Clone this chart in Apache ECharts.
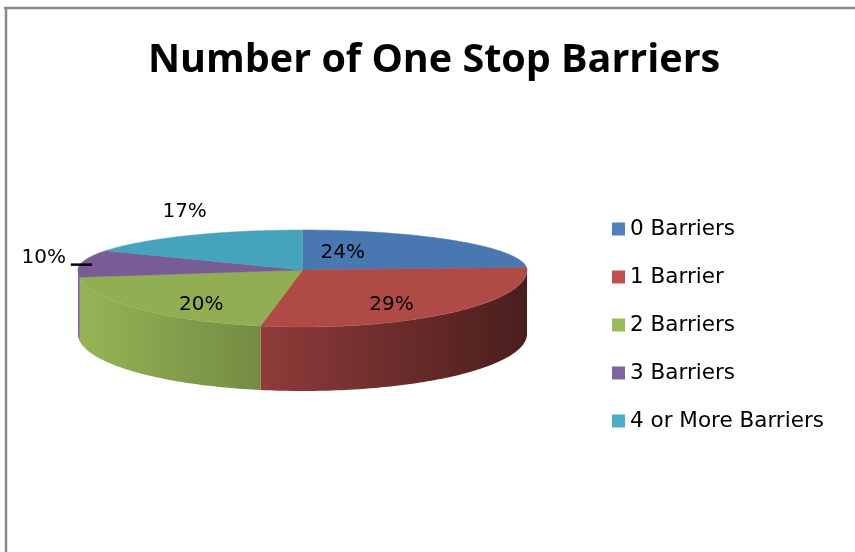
<!DOCTYPE html>
<html>
<head>
<meta charset="utf-8">
<script src="https://cdn.jsdelivr.net/npm/echarts@6/dist/echarts.min.js"></script>
<style>
html,body{margin:0;padding:0;background:#fff;}
#main{width:855px;height:552px;}
</style>
</head>
<body>
<div id="main"></div>
<script>
// ---- data ----
const titleText = 'Number of One Stop Barriers';
const categories = ['0 Barriers', '1 Barrier', '2 Barriers', '3 Barriers', '4 or More Barriers'];
const values = [24, 29, 20, 10, 17];
const labelTexts = ['24%', '29%', '20%', '10%', '17%'];

// ---- style ----
const legendColors = ['#4F81BD', '#C0504D', '#9BBB59', '#8064A2', '#4BACC6'];
const topColors = ['#4877B1', '#B04A47', '#91AE52', '#775C96', '#46A3BC'];
const geo = { cx: 302.5, cy: 270, rx: 224.5, ryTop: 40, ryBot: 57, depth: 64 };
const TITLE_FONT = '"Open Sans"';
const TEXT_FONT = '"DejaVu Sans"';
const labelStyle = {
  place: ['in', 'in', 'in', 'out', 'out'],
  nudge: [[-52, 5], [0, 3], [-3, 6], [17, -3], [25, -15]]
};

function shade(hex, f) {
  const n = parseInt(hex.slice(1), 16);
  const r = Math.round(((n >> 16) & 255) * f), g = Math.round(((n >> 8) & 255) * f), b = Math.round((n & 255) * f);
  return 'rgb(' + r + ',' + g + ',' + b + ')';
}
function pt(t, dy) {
  const c = Math.cos(t);
  const ry = c > 0 ? geo.ryTop : geo.ryBot;
  return [geo.cx + geo.rx * Math.sin(t), geo.cy - ry * c + (dy || 0)];
}
function arcPts(a, b, dy) {
  const n = Math.max(2, Math.ceil((b - a) / 0.02));
  const out = [];
  for (let k = 0; k <= n; k++) out.push(pt(a + (b - a) * k / n, dy));
  return out;
}

const total = values.reduce((s, v) => s + v, 0);

function renderSlice(params, api) {
  const i = params.seriesIndex;
  const before = values.slice(0, i).reduce((s, v) => s + v, 0);
  const v = api.value(0);
  const a0 = before / total * Math.PI * 2;
  const a1 = (before + v) / total * Math.PI * 2;
  const children = [];
  const wa = Math.max(a0, Math.PI / 2), wb = Math.min(a1, Math.PI * 1.5);
  if (wb > wa) {
    const topArc = arcPts(wa, wb, 0);
    const botArc = arcPts(wa, wb, geo.depth).reverse();
    const base = legendColors[i];
    children.push({
      type: 'polygon',
      shape: { points: topArc.concat(botArc) },
      style: {
        fill: {
          type: 'linear', x: geo.cx - geo.rx, y: 0, x2: geo.cx + geo.rx, y2: 0, global: true,
          colorStops: [
            { offset: 0, color: shade(base, 0.97) },
            { offset: 0.4, color: shade(base, 0.75) },
            { offset: 1, color: shade(base, 0.38) }
          ]
        },
        stroke: null
      }
    });
  }
  const face = [[geo.cx, geo.cy]].concat(arcPts(a0, a1, 0));
  children.push({
    type: 'polygon',
    shape: { points: face },
    style: { fill: topColors[i], stroke: topColors[i], lineWidth: 0.5 }
  });
  const mid = (a0 + a1) / 2;
  const rim = pt(mid, 0);
  const nd = labelStyle.nudge[i];
  let lx, ly;
  if (labelStyle.place[i] === 'in') {
    lx = geo.cx + (rim[0] - geo.cx) * 0.6;
    ly = geo.cy + (rim[1] - geo.cy) * 0.75;
  } else {
    lx = geo.cx + (rim[0] - geo.cx) * 1.25;
    ly = geo.cy + (rim[1] - geo.cy) * 1.25;
  }
  lx += nd[0]; ly += nd[1];
  children.push({
    type: 'text',
    z2: 100,
    style: {
      x: lx, y: ly, text: labelTexts[i],
      fill: '#000', font: '20px ' + TEXT_FONT, align: 'center', verticalAlign: 'middle'
    }
  });
  if (labelStyle.place[i] === 'out' && Math.sin(mid) < -0.9) {
    children.push({
      type: 'line', z2: 100,
      shape: { x1: lx + 27, y1: ly + 7, x2: rim[0] + 10, y2: ly + 7 },
      style: { stroke: '#000', lineWidth: 2.5 }
    });
  }
  return { type: 'group', children: children };
}

const series = categories.map((name, i) => ({
  type: 'custom',
  name: name,
  coordinateSystem: 'none',
  renderItem: renderSlice,
  itemStyle: { color: legendColors[i] },
  data: [[values[i]]],
  silent: true,
  animation: false
}));

const chart = echarts.init(document.getElementById('main'), null, { renderer: 'canvas' });
chart.setOption({
  backgroundColor: '#fff',
  animation: false,
  title: {
    text: titleText,
    left: 143,
    top: 36,
    padding: 5,
    textStyle: { fontFamily: TITLE_FONT, fontWeight: 'bold', fontSize: 39.5, color: '#000' }
  },
  legend: {
    orient: 'vertical',
    left: 607,
    top: 213,
    itemWidth: 13,
    itemHeight: 13,
    itemGap: 26,
    icon: 'rect',
    data: categories,
    textStyle: { fontFamily: TEXT_FONT, fontSize: 21.5, color: '#000' }
  },
  graphic: [
    { type: 'line', shape: { x1: 4, y1: 8, x2: 855, y2: 8 }, style: { stroke: '#8a8a8a', lineWidth: 2.5 } },
    { type: 'line', shape: { x1: 6, y1: 7, x2: 6, y2: 552 }, style: { stroke: '#8a8a8a', lineWidth: 2.5 } }
  ],
  series: series
});
</script>
</body>
</html>
